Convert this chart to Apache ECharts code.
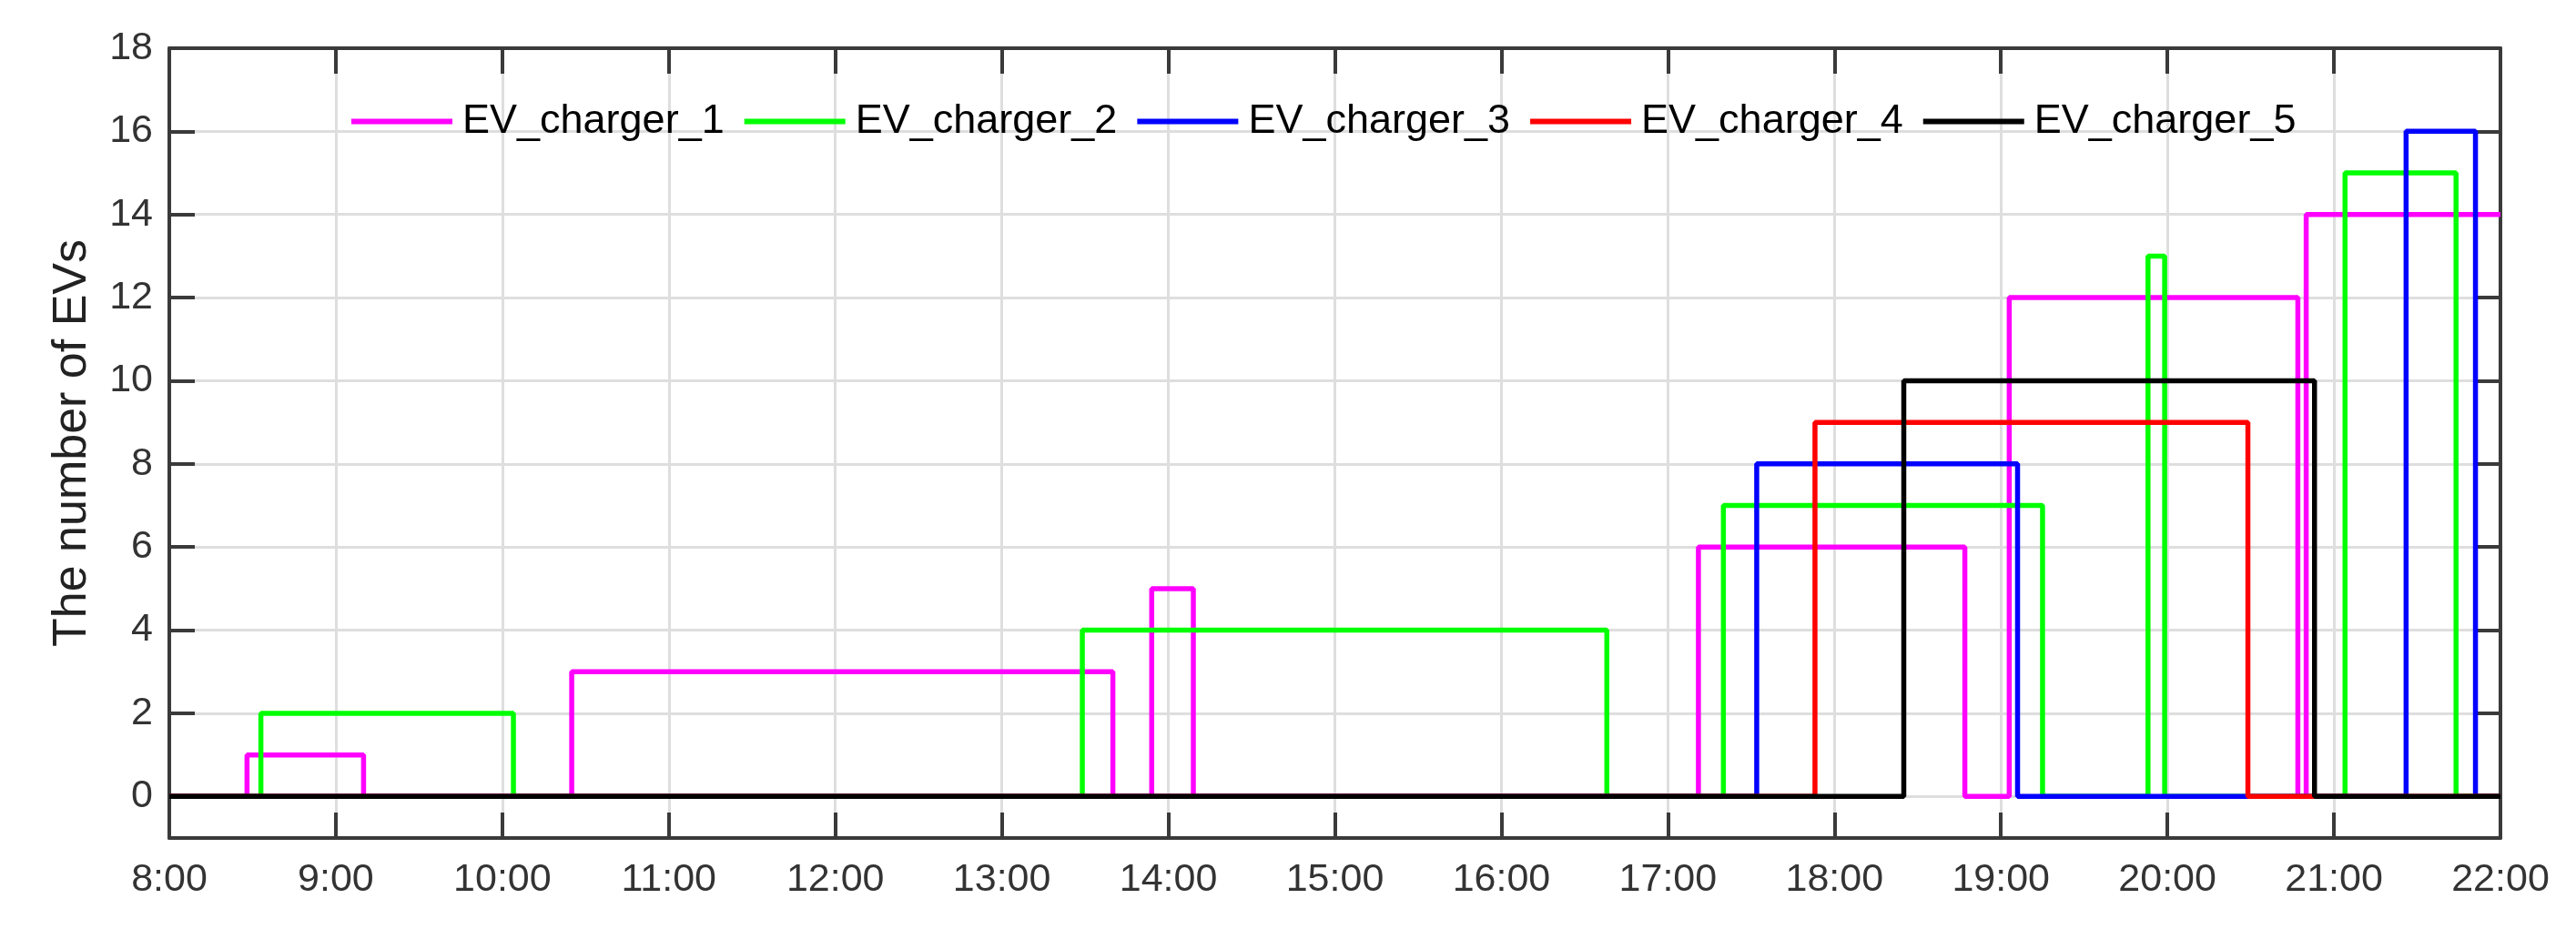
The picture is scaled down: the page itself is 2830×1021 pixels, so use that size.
<!DOCTYPE html>
<html>
<head>
<meta charset="utf-8">
<title>EV chargers</title>
<script src="https://cdn.jsdelivr.net/npm/echarts@6/dist/echarts.min.js"></script>
<style>
    html, body { margin: 0; padding: 0; background: #fff; }
    #chart { width: 2830px; height: 1021px; }
</style>
</head>
<body>
<div id="chart"></div>
<script>
    // step data: from each time on the count holds until the next time
    const seriesNames = ['EV_charger_1', 'EV_charger_2', 'EV_charger_3', 'EV_charger_4', 'EV_charger_5'];
    const seriesColors = ['#ff00ff', '#00ff00', '#0000ff', '#ff0000', '#000000'];

    const charger1Times = ['8:00', '8:28', '9:10', '10:25', '13:40', '13:54', '14:09', '17:11', '18:47', '19:03', '20:47', '20:50', '22:00'];
    const charger1Counts = [0, 1, 0, 3, 0, 5, 0, 6, 0, 12, 0, 14, 14];

    const charger2Times = ['8:00', '8:33', '10:04', '13:29', '16:38', '17:20', '19:15', '19:53', '19:59', '21:04', '21:44', '22:00'];
    const charger2Counts = [0, 2, 0, 4, 0, 7, 0, 13, 0, 15, 0, 0];

    const charger3Times = ['8:00', '17:32', '19:06', '21:26', '21:51', '22:00'];
    const charger3Counts = [0, 8, 0, 16, 0, 0];

    const charger4Times = ['8:00', '17:53', '20:29', '22:00'];
    const charger4Counts = [0, 9, 0, 0];

    const charger5Times = ['8:00', '18:25', '20:53', '22:00'];
    const charger5Counts = [0, 10, 0, 0];

    const yTicks = [0, 2, 4, 6, 8, 10, 12, 14, 16, 18];

    const allTimes = [charger1Times, charger2Times, charger3Times, charger4Times, charger5Times];
    const allCounts = [charger1Counts, charger2Counts, charger3Counts, charger4Counts, charger5Counts];

    function toHours(t) {
        let p = t.split(':');
        return Number(p[0]) + Number(p[1]) / 60;
    }

    let font = 'Liberation Sans, Arial, sans-serif';
    let axisColor = '#3a3a3a';
    let gridColor = '#dedede';

    let series = [];
    for (let i = 0; i < seriesNames.length; i++) {
        let d = [];
        for (let j = 0; j < allTimes[i].length; j++) {
            d.push([toHours(allTimes[i][j]), allCounts[i][j]]);
        }
        series.push({
            name: seriesNames[i],
            type: 'line',
            step: 'end',
            symbol: 'none',
            xAxisIndex: 0,
            yAxisIndex: 0,
            lineStyle: { color: seriesColors[i], width: 5.5 },
            itemStyle: { color: seriesColors[i] },
            data: d
        });
    }

    let myChart = echarts.init(document.getElementById('chart'));
    const option = {
        animation: false,
        backgroundColor: '#fff',
        legend: {
            data: seriesNames,
            left: 381,
            top: 106,
            icon: 'rect',
            itemWidth: 111,
            itemHeight: 6,
            itemGap: 22,
            textStyle: { fontFamily: font, fontSize: 45, color: '#000', padding: [0, 0, 0, 6] }
        },
        grid: {
            left: 186,
            right: 83,
            top: 53,
            bottom: 100,
            containLabel: false
        },
        xAxis: [
            {
                type: 'value',
                position: 'bottom',
                min: 8,
                max: 22,
                interval: 1,
                axisLine: { onZero: false, lineStyle: { color: axisColor, width: 4 } },
                axisTick: { inside: true, length: 28, lineStyle: { color: axisColor, width: 4 } },
                axisLabel: {
                    margin: 25,
                    fontFamily: font,
                    fontSize: 43,
                    color: '#333',
                    formatter: function (v) { return v + ':00'; }
                },
                splitLine: { show: true, lineStyle: { color: gridColor, width: 3 } }
            },
            {
                type: 'value',
                position: 'top',
                min: 8,
                max: 22,
                interval: 1,
                axisLine: { onZero: false, lineStyle: { color: axisColor, width: 4 } },
                axisTick: { inside: true, length: 28, lineStyle: { color: axisColor, width: 4 } },
                axisLabel: { show: false },
                splitLine: { show: false }
            }
        ],
        yAxis: [
            {
                type: 'value',
                position: 'left',
                min: -1,
                max: 18,
                name: 'The number of EVs',
                nameLocation: 'middle',
                nameGap: 80,
                nameTextStyle: { fontFamily: font, fontSize: 52, color: '#222' },
                axisLine: { onZero: false, lineStyle: { color: axisColor, width: 4 } },
                axisTick: { inside: true, length: 28, customValues: yTicks, lineStyle: { color: axisColor, width: 4 } },
                axisLabel: { margin: 18, fontFamily: font, fontSize: 43, color: '#333', customValues: yTicks },
                splitLine: { show: true, lineStyle: { color: gridColor, width: 3 } }
            },
            {
                type: 'value',
                position: 'right',
                min: -1,
                max: 18,
                axisLine: { show: true, onZero: false, lineStyle: { color: axisColor, width: 4 } },
                axisTick: { show: true, inside: true, length: 28, customValues: yTicks, lineStyle: { color: axisColor, width: 4 } },
                axisLabel: { show: false },
                splitLine: { show: false }
            }
        ],
        series: series
    };
    myChart.setOption(option);
</script>
</body>
</html>
